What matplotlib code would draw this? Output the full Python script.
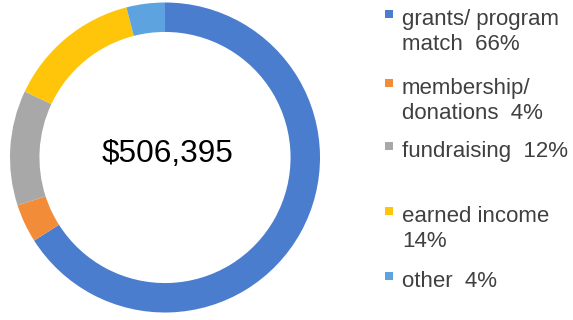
import matplotlib
matplotlib.use('Agg')
import matplotlib.pyplot as plt
from matplotlib.patches import Rectangle

plt.rcParams['font.family'] = ['Liberation Sans', 'DejaVu Sans']

# revenue sources
labels = ['grants/ program\nmatch  66%', 'membership/\ndonations  4%', 'fundraising  12%',
          'earned income\n14%', 'other  4%']
shares = [66, 4, 12, 14, 4]
colors = ['#4A7DCE', '#F28C38', '#A8A8A8', '#FFC50A', '#5DA3E0']
total_label = '$506,395'

W, H = 573, 320
fig = plt.figure(figsize=(W / 100, H / 100), dpi=100)

# donut: centre (165, 157.5) px, outer radius 155 px
cx, cy, r = 165, 157.5, 155
ax = fig.add_axes([(cx - r) / W, 1 - (cy + r) / H, 2 * r / W, 2 * r / H])
ax.pie(shares, colors=colors, startangle=90, counterclock=False, radius=1,
       wedgeprops=dict(width=0.19, edgecolor='none'))
ax.set_xlim(-1, 1)
ax.set_ylim(-1, 1)
ax.set_aspect('equal')
ax.axis('off')

fig.text(168 / W, 1 - 161.7 / H, total_label, ha='center', va='baseline',
         fontsize=22.7, color='black')

# legend, hand placed
baselines = [25, 94, 157, 222, 287]
line_gap = 25
for lab, col, b in zip(labels, colors, baselines):
    fig.patches.append(Rectangle((385 / W, 1 - (b - 7) / H), 8 / W, 8 / H,
                                 transform=fig.transFigure, facecolor=col,
                                 edgecolor='none'))
    for i, line in enumerate(lab.split('\n')):
        fig.text(402 / W, 1 - (b + i * line_gap) / H, line, ha='left',
                 va='baseline', fontsize=16, color='#404040')

fig.savefig('out.png', dpi=100)
